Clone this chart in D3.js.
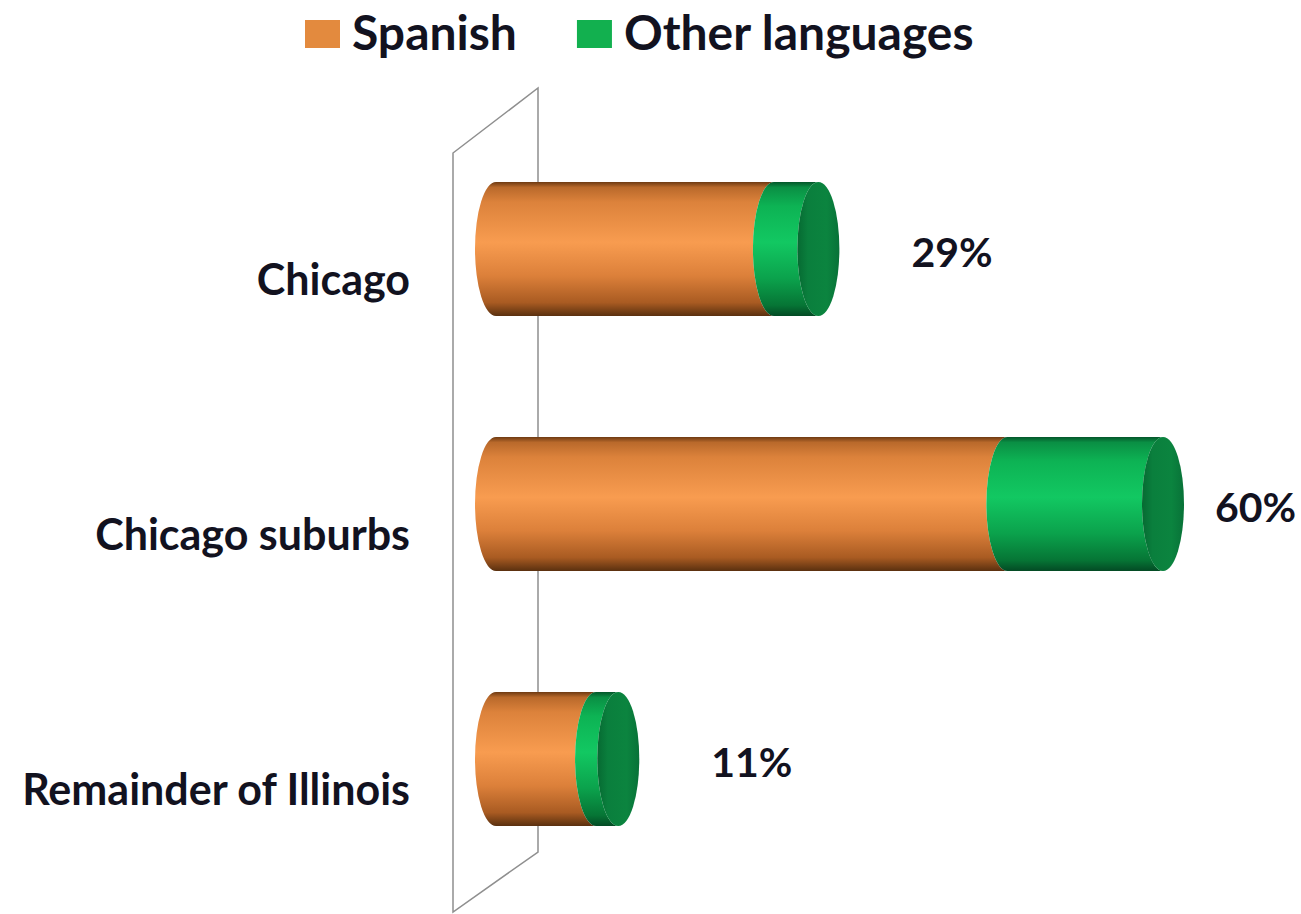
<!DOCTYPE html>
<html>
<head>
<meta charset="utf-8">
<script src="https://cdn.jsdelivr.net/npm/d3@7/dist/d3.min.js"></script>
<style>
  html, body { margin: 0; padding: 0; background: #ffffff; }
  svg { display: block; }
  text { font-family: "Lato", "Open Sans", sans-serif; font-weight: 700; fill: #12121f; }
</style>
</head>
<body>
<svg id="chart" width="1301" height="914"></svg>
<script>
// Share of non-English speakers by region, split by language
const categories = ["Chicago", "Chicago suburbs", "Remainder of Illinois"];
const spanish = [25, 46, 9];
const otherLanguages = [4, 14, 2];
const valueLabels = ["29%", "60%", "11%"];
const seriesNames = ["Spanish", "Other languages"];

const W = 1301, H = 914;
const svg = d3.select("#chart");
const defs = svg.append("defs");

// Cylinder shading: vertical gradients for the body, flat-ish tone for the end cap
function vGrad(id, stops) {
  const g = defs.append("linearGradient").attr("id", id)
    .attr("x1", 0).attr("y1", 0).attr("x2", 0).attr("y2", 1);
  stops.forEach(([o, c]) => g.append("stop").attr("offset", o).attr("stop-color", c));
}
vGrad("gOrange", [[0, "#6e3a12"], [0.04, "#b9692b"], [0.15, "#dc823b"], [0.45, "#f89c50"],
                  [0.7, "#dc803a"], [0.9, "#a95b22"], [1, "#5a300f"]]);
vGrad("gGreen", [[0, "#04562a"], [0.04, "#0a8f44"], [0.18, "#0db354"], [0.45, "#12c862"],
                 [0.72, "#0ba24c"], [0.92, "#067535"], [1, "#034a24"]]);
const capGrad = defs.append("linearGradient").attr("id", "gCap")
  .attr("x1", 0).attr("y1", 0).attr("x2", 1).attr("y2", 0);
[[0, "#066a32"], [0.25, "#0a7f3d"], [0.7, "#0b843f"], [1, "#087238"]]
  .forEach(([o, c]) => capGrad.append("stop").attr("offset", o).attr("stop-color", c));

const fills = ["url(#gOrange)", "url(#gGreen)"];
const legendColors = ["#e38a3e", "#12b04f"];

// Scales
const x = d3.scaleLinear().domain([0, 60]).range([496, 1163]);
const y = d3.scalePoint().domain(categories).range([249, 759]);
const barH = 134;
const rx = 21, ry = barH / 2;

// Back wall (parallelogram drawn in perspective)
const wall = [[453, 153], [538, 88], [538, 852], [453, 912]];
svg.append("path")
  .attr("d", d3.line()(wall) + "Z")
  .attr("fill", "none")
  .attr("stroke", "#8f8f8f")
  .attr("stroke-width", 1.5);

// Stacked data
const rows = categories.map((c, i) => ({ category: c, Spanish: spanish[i], "Other languages": otherLanguages[i] }));
const stacked = d3.stack().keys(seriesNames)(rows);

// Cylinder segment between two stack values: front arcs on both ends
function segmentPath(x0, x1, cy) {
  const t = cy - ry, b = cy + ry;
  return `M${x0},${t}L${x1},${t}A${rx},${ry} 0 0 0 ${x1},${b}L${x0},${b}A${rx},${ry} 0 0 1 ${x0},${t}Z`;
}

const bars = svg.append("g");
stacked.forEach((layer, si) => {
  bars.selectAll(null)
    .data(layer)
    .enter().append("path")
    .attr("d", d => segmentPath(x(d[0]), x(d[1]), y(d.data.category)))
    .attr("fill", fills[si]);
});

// End caps on the outermost segment
const outer = stacked[stacked.length - 1];
bars.selectAll(null)
  .data(outer)
  .enter().append("ellipse")
  .attr("cx", d => x(d[1]))
  .attr("cy", d => y(d.data.category))
  .attr("rx", rx)
  .attr("ry", ry)
  .attr("fill", "url(#gCap)");

// Category labels
svg.append("g").selectAll("text")
  .data(categories)
  .enter().append("text")
  .attr("x", 410)
  .attr("y", d => y(d) + 46)
  .attr("text-anchor", "end")
  .attr("font-size", 43)
  .text(d => d);

// Total labels, kept inside the chart area
svg.append("g").selectAll("text")
  .data(outer)
  .enter().append("text")
  .attr("x", d => Math.min(x(d[1]) + 93, W - 86))
  .attr("y", d => y(d.data.category) + 18)
  .attr("font-size", 41)
  .text((d, i) => valueLabels[i]);

// Legend
const legend = svg.append("g");
let lx = 305;
seriesNames.forEach((name, i) => {
  legend.append("rect")
    .attr("x", lx).attr("y", 20).attr("width", 35).attr("height", 28)
    .attr("fill", legendColors[i]);
  const t = legend.append("text")
    .attr("x", lx + 47).attr("y", 50)
    .attr("font-size", 48)
    .text(name);
  lx += 47 + t.node().getComputedTextLength() + 60;
});
</script>
</body>
</html>
